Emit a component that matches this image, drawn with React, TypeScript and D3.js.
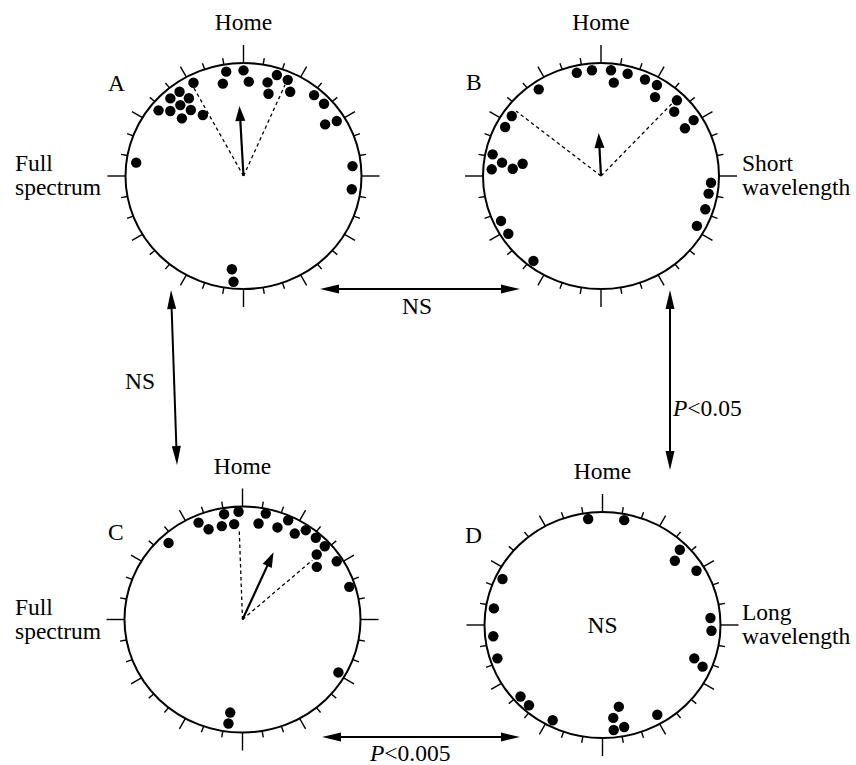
import React from 'react';
import * as d3 from 'd3';

// ---------- data: [bearing in degrees (0 = Home, clockwise), radial position as fraction of radius]
const dotsA: [number, number][] = [
  [-9.4, 0.935], [0, 0.935], [-12.6, 0.836], [3.2, 0.836], [18.3, 0.937], [24.7, 0.93],
  [14.4, 0.853], [16.9, 0.758], [29, 0.844], [-28.2, 0.928], [-37.2, 0.922], [-43.3, 0.925],
  [-35.1, 0.829], [-41.7, 0.825], [-52.3, 0.925], [-48.4, 0.846], [-38.6, 0.735], [-46.9, 0.73],
  [-33.7, 0.64], [41.1, 0.933], [48.1, 0.935], [57.7, 0.829], [59.5, 0.928], [-82.9, 0.917],
  [84.8, 0.928], [97, 0.925], [187.1, 0.831], [185.4, 0.94],
];
const dotsB: [number, number][] = [
  [-13.2, 0.936], [-4.9, 0.939], [5.4, 0.94], [14.6, 0.933], [7.8, 0.833], [24.5, 0.932],
  [31.6, 0.934], [34.4, 0.835], [45.1, 0.929], [48.7, 0.842], [58.9, 0.928], [60.4, 0.827],
  [-35.7, 0.931], [-56.1, 0.924], [-62.9, 0.921], [-78.7, 0.938], [-82.3, 0.847], [-86.5, 0.928],
  [-85.3, 0.751], [-81.1, 0.673], [93.5, 0.934], [99.3, 0.925], [107.7, 0.932], [117.5, 0.925],
  [245.8, 0.936], [238.1, 0.937], [218.5, 0.945],
];
const dotsC: [number, number][] = [
  [-9.9, 0.945], [-2.1, 0.954], [-12.5, 0.845], [-5, 0.847], [-24.4, 0.935], [-20.6, 0.849],
  [-44, 0.923], [9.5, 0.86], [12.4, 0.958], [20.8, 0.867], [24.7, 0.96], [31.3, 0.88],
  [35.3, 0.955], [41.9, 0.953], [48.3, 0.952], [48.8, 0.852], [54.7, 0.783], [58.3, 0.95],
  [73, 0.95], [118.9, 0.938], [187.5, 0.83], [187.7, 0.928],
];
const dotsD: [number, number][] = [
  [-7.7, 0.946], [11.7, 0.946], [45.8, 0.934], [48.4, 0.836], [60, 0.93], [-65.3, 0.94],
  [-81.3, 0.932], [264.1, 0.931], [252.4, 0.938], [86.3, 0.917], [93, 0.925], [110, 0.832],
  [112.6, 0.925], [228.9, 0.94], [222.5, 0.945], [207.6, 0.943], [168.7, 0.736], [173.4, 0.827],
  [173.9, 0.934], [168, 0.921], [148.6, 0.92],
];
// mean vector [bearing, length fraction]
const meanA: [number, number] = [-3.3, 0.62];
const meanB: [number, number] = [-3.1, 0.38];
const meanC: [number, number] = [24.8, 0.65];
// 95% confidence limits [[bearing, length], [bearing, length]]
const ciA: [number, number][] = [[-29.4, 0.92], [24.5, 0.88]];
const ciB: [number, number][] = [[-52.6, 0.92], [44.4, 0.89]];
const ciC: [number, number][] = [[-2.1, 0.79], [49.7, 0.79]];
const tickBearings = d3.range(0, 360, 10);
const sideLabels = { A: ['Full', 'spectrum'], B: ['Short', 'wavelength'], C: ['Full', 'spectrum'], D: ['Long', 'wavelength'] };

const RX = 118;
const RY = 113;
const FONT = "'Liberation Serif', 'Times New Roman', Times, 'DejaVu Serif', serif";
const FS = 23.5;
const txt = { fontFamily: FONT, fontSize: FS } as React.CSSProperties;

const angle = d3.scaleLinear().domain([0, 360]).range([0, 2 * Math.PI]);
const edge = (t: number) => (RX * RY) / Math.sqrt((RY * Math.sin(t)) ** 2 + (RX * Math.cos(t)) ** 2);
const polar = (cx: number, cy: number, deg: number, frac: number, extra = 0) => {
  const t = angle(deg);
  const r = d3.scaleLinear().domain([0, 1]).range([0, edge(t)])(frac) + extra;
  return [cx + r * Math.sin(t), cy - r * Math.cos(t)];
};

function headPath(x1: number, y1: number, x2: number, y2: number, len: number, hw: number) {
  const dx = x2 - x1, dy = y2 - y1;
  const L = Math.hypot(dx, dy);
  const ux = dx / L, uy = dy / L;
  const bx = x2 - ux * len, by = y2 - uy * len;
  return `M${x2},${y2}L${bx - uy * hw},${by + ux * hw}L${bx + uy * hw},${by - ux * hw}Z`;
}

function Panel({ cx, cy, dots, mean, ci, letter, lx, ly, side, sx, ns }: any) {
  return (
    <g>
      <ellipse cx={cx} cy={cy} rx={RX} ry={RY} fill="none" stroke="#000" strokeWidth={2} />
      {tickBearings.map((b) => {
        const len = b % 90 === 0 ? 18 : b % 30 === 0 ? 12 : 6.5;
        const [x1, y1] = polar(cx, cy, b, 1);
        const [x2, y2] = polar(cx, cy, b, 1, len);
        return <line key={b} x1={x1} y1={y1} x2={x2} y2={y2} stroke="#000" strokeWidth={1.4} />;
      })}
      {ci &&
        ci.map(([b, f]: [number, number], i: number) => {
          const [x, y] = polar(cx, cy, b, f);
          return <line key={i} x1={cx} y1={cy} x2={x} y2={y} stroke="#000" strokeWidth={1.3} strokeDasharray="3.5,3" />;
        })}
      {mean &&
        (() => {
          const [x, y] = polar(cx, cy, mean[0], mean[1]);
          const t = angle(mean[0]);
          const bx = x - 13 * Math.sin(t), by = y + 13 * Math.cos(t);
          return (
            <g>
              <line x1={cx} y1={cy} x2={bx} y2={by} stroke="#000" strokeWidth={2.2} />
              <path d={headPath(cx, cy, x, y, 15, 5)} fill="#000" />
            </g>
          );
        })()}
      {dots.map(([b, f]: [number, number], i: number) => {
        const [x, y] = polar(cx, cy, b, f);
        return <circle key={i} cx={x} cy={y} r={5.2} fill="#000" />;
      })}
      <text x={cx} y={cy - RY - 33} textAnchor="middle" style={txt}>Home</text>
      <text x={lx} y={ly} style={txt}>{letter}</text>
      <text x={sx} y={cy - 5} style={txt}>{side[0]}</text>
      <text x={sx} y={cy + 19} style={txt}>{side[1]}</text>
      {ns && <text x={cx} y={cy + 8} textAnchor="middle" style={txt}>NS</text>}
    </g>
  );
}

function DoubleArrow({ x1, y1, x2, y2 }: any) {
  const dx = x2 - x1, dy = y2 - y1;
  const L = Math.hypot(dx, dy);
  const ux = dx / L, uy = dy / L;
  return (
    <g>
      <line x1={x1 + ux * 12} y1={y1 + uy * 12} x2={x2 - ux * 12} y2={y2 - uy * 12} stroke="#000" strokeWidth={2} />
      <path d={headPath(x2, y2, x1, y1, 19, 4.5)} fill="#000" />
      <path d={headPath(x1, y1, x2, y2, 19, 4.5)} fill="#000" />
    </g>
  );
}

export default function App() {
  return (
    <svg width={856} height={765} style={{ display: 'block', position: 'absolute', left: 0, top: 0 }}>
      <rect width={856} height={765} fill="#fff" />
      <Panel cx={243.5} cy={176} dots={dotsA} mean={meanA} ci={ciA} letter="A" lx={108} ly={91} side={sideLabels.A} sx={15} />
      <Panel cx={601} cy={176} dots={dotsB} mean={meanB} ci={ciB} letter="B" lx={466} ly={90} side={sideLabels.B} sx={742} />
      <Panel cx={242.5} cy={619.5} dots={dotsC} mean={meanC} ci={ciC} letter="C" lx={108} ly={540} side={sideLabels.C} sx={15} />
      <Panel cx={602.5} cy={625} dots={dotsD} letter="D" lx={465} ly={543} side={sideLabels.D} sx={742} ns />
      <DoubleArrow x1={320} y1={289} x2={520} y2={289} />
      <text x={417} y={314} textAnchor="middle" style={txt}>NS</text>
      <DoubleArrow x1={171} y1={290} x2={177} y2={465} />
      <text x={125} y={389} style={txt}>NS</text>
      <DoubleArrow x1={670} y1={290} x2={670} y2={470} />
      <text x={673} y={416} style={txt}>
        <tspan fontStyle="italic">P</tspan>&lt;0.05
      </text>
      <DoubleArrow x1={322} y1={737} x2={520} y2={737} />
      <text x={370} y={761} style={txt}>
        <tspan fontStyle="italic">P</tspan>&lt;0.005
      </text>
    </svg>
  );
}
